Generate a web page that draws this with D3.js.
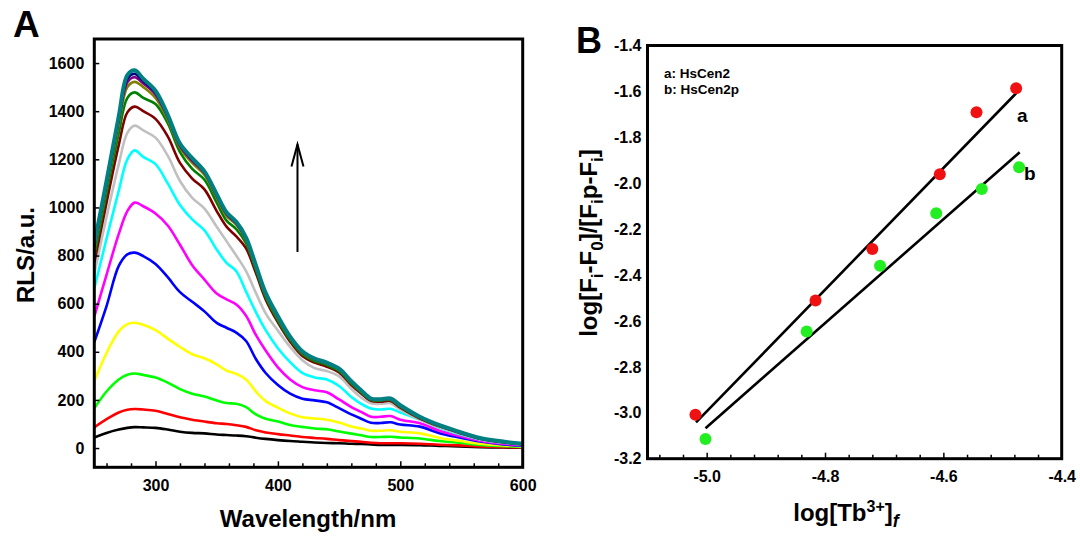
<!DOCTYPE html>
<html>
<head>
<meta charset="utf-8">
<script src="https://d3js.org/d3.v7.min.js"></script>
<style>
body { margin: 0; background: #fff; }
text { font-family: "Liberation Sans", Arial, sans-serif; font-weight: bold; fill: #000; }
</style>
</head>
<body>
<div id="chart"></div>
<script>
// panel A: RLS spectra
var wavelengths = [250,260,270,277,283,290,300,310,320,330,340,350,358,366,374,382,390,400,410,420,430,440,450,460,468,476,484,492,500,516,532,548,565,584,600];

var black   = [44,63,77,84,87,86,84,77,68,63,61,56,54,52,49,43,38,33,29,26,23,21,20,18,17,15,13,13,13,12,9,7,4,2,1];
var red     = [86,120,148,159,162,160,155,142,128,118,110,103,100,95,88,74,65,58,52,46,42,38,33,29,26,22,20,20,20,18,14,11,7,4,3];
var lime    = [165,235,285,305,310,304,293,272,245,226,214,198,187,184,170,140,122,110,96,88,81,78,69,60,53,46,46,47,44,40,29,22,13,8,5];
var yellow  = [278,395,485,515,521,512,490,455,420,390,373,348,322,308,285,235,195,168,144,128,123,118,106,90,81,72,72,74,68,61,42,30,18,11,7];
var blue    = [440,590,757,805,812,798,765,710,648,608,568,520,500,480,445,370,312,262,226,205,198,190,166,140,122,105,104,107,98,89,62,44,27,15,10];
var magenta = [546,720,890,985,1020,1005,975,925,845,760,700,642,618,597,550,470,405,335,285,253,240,232,202,170,150,130,130,133,118,103,72,50,30,18,12];
var cyan    = [663,870,1070,1200,1237,1210,1180,1100,1010,950,905,825,770,735,650,565,490,415,357,312,293,285,258,212,184,164,160,163,148,118,84,58,36,22,15];
var silver  = [723,960,1180,1310,1340,1320,1290,1215,1110,1040,995,920,860,800,735,645,560,488,420,365,332,320,298,246,210,186,184,186,160,118,86,61,37,23,15];
var maroon  = [770,1020,1260,1395,1419,1400,1368,1295,1185,1120,1075,985,920,880,830,728,618,522,442,383,355,338,314,262,227,196,193,196,168,123,90,64,39,24,16];
var green   = [800,1060,1310,1455,1478,1455,1430,1350,1230,1160,1115,1020,945,910,850,742,628,530,450,390,362,345,320,268,232,200,198,200,172,126,92,66,40,25,17];
var olive   = [825,1085,1345,1500,1522,1500,1455,1365,1248,1185,1135,1040,965,928,862,750,636,538,457,396,368,350,326,273,236,203,200,203,175,128,93,67,41,26,17];
var purple  = [835,1095,1360,1520,1541,1515,1470,1375,1255,1195,1143,1047,972,934,868,754,640,542,460,398,370,352,328,275,238,204,201,204,176,129,94,67,41,26,17];
var navy    = [842,1102,1370,1535,1555,1525,1478,1380,1260,1200,1147,1051,976,937,872,757,642,545,461,400,371,353,329,276,239,205,202,205,177,129,94,67,41,26,17];
var teal    = [850,1110,1380,1550,1570,1535,1485,1385,1265,1205,1150,1055,980,940,875,760,645,548,463,402,372,355,330,278,240,206,203,206,178,130,95,68,42,27,18];

var spectra = [black, red, lime, yellow, blue, magenta, cyan, silver, maroon, green, olive, purple, navy, teal];
var spectraColors = ["#000000","#ff0000","#00ff00","#ffff00","#0000ff","#ff00ff","#00ffff","#c0c0c0","#800000","#008000","#808000","#800080","#000080","#008080"];

var xTicksA = [300, 400, 500, 600];
var xMinorA = [260,280,320,340,360,380,420,440,460,480,520,540,560,580];
var yTicksA = [0, 200, 400, 600, 800, 1000, 1200, 1400, 1600];
var arrowA = [[416, 815], [416, 1262]];

// panel B: log plot
var logTbA = [-5.019, -4.816, -4.720, -4.606, -4.544, -4.477];
var logFA  = [-3.009, -2.511, -2.286, -1.961, -1.691, -1.586];
var logTbB = [-5.002, -4.831, -4.707, -4.612, -4.535, -4.472];
var logFB  = [-3.114, -2.646, -2.359, -2.131, -2.025, -1.930];
var fitA = [[-5.018, -3.042], [-4.477, -1.608]];
var fitB = [[-5.002, -3.067], [-4.471, -1.865]];

var xTicksB = [-5.0, -4.8, -4.6, -4.4];
var yTicksB = [-3.2, -3.0, -2.8, -2.6, -2.4, -2.2, -2.0, -1.8, -1.6, -1.4];
var legendB = ["a: HsCen2", "b: HsCen2p"];

var svg = d3.select("#chart")
    .append("svg")
    .attr("width", 1080)
    .attr("height", 537);

svg.append("rect").attr("width", 1080).attr("height", 537).attr("fill", "#fff");

// ---------- A ----------
var xA = d3.scaleLinear().domain([250, 600]).range([94.3, 522.7]);
var yA = d3.scaleLinear().domain([-80, 1700]).range([467.3, 39]);

svg.append("clipPath").attr("id", "clipA")
    .append("rect")
    .attr("x", xA(250)).attr("y", yA(1700))
    .attr("width", xA(600) - xA(250)).attr("height", yA(-80) - yA(1700));

var line = d3.line()
    .x(function(d, i) { return xA(wavelengths[i]); })
    .y(function(d) { return yA(d); })
    .curve(d3.curveCatmullRom.alpha(0.5));

svg.append("g")
    .attr("clip-path", "url(#clipA)")
    .selectAll("path")
    .data(spectra)
    .enter()
    .append("path")
    .attr("d", line)
    .attr("fill", "none")
    .attr("stroke", function(d, i) { return spectraColors[i]; })
    .attr("stroke-width", function(d, i) { return i == spectra.length - 1 ? 4 : 2.6; })
    .attr("stroke-linejoin", "round");

var axA = svg.append("g").attr("transform", "translate(0," + yA(-80) + ")")
    .call(d3.axisBottom(xA).tickValues(xTicksA).tickSize(-6).tickPadding(12.5).tickFormat(d3.format("d")));
svg.append("g").attr("transform", "translate(0," + yA(-80) + ")")
    .call(d3.axisBottom(xA).tickValues(xMinorA).tickSize(-4).tickFormat(""));
var ayA = svg.append("g").attr("transform", "translate(" + xA(250) + ",0)")
    .call(d3.axisLeft(yA).tickValues(yTicksA).tickSize(-5).tickPadding(10).tickFormat(d3.format("d")));

svg.selectAll(".domain").remove();
svg.selectAll(".tick line").attr("stroke", "#000").attr("stroke-width", 1.5);
svg.selectAll(".tick text").style("font-size", "16px").style("font-family", "'Liberation Sans', Arial, sans-serif").style("font-weight", "bold");

svg.append("rect")
    .attr("x", xA(250)).attr("y", yA(1700))
    .attr("width", xA(600) - xA(250)).attr("height", yA(-80) - yA(1700))
    .attr("fill", "none").attr("stroke", "#000").attr("stroke-width", 3);

// arrow
svg.append("line")
    .attr("x1", xA(arrowA[0][0])).attr("y1", yA(arrowA[0][1]))
    .attr("x2", xA(arrowA[1][0])).attr("y2", yA(arrowA[1][1]))
    .attr("stroke", "#000").attr("stroke-width", 2);
svg.append("path")
    .attr("d", "M" + (xA(arrowA[1][0]) - 6) + "," + (yA(arrowA[1][1]) + 22) +
               "L" + xA(arrowA[1][0]) + "," + yA(arrowA[1][1]) +
               "L" + (xA(arrowA[1][0]) + 6) + "," + (yA(arrowA[1][1]) + 22))
    .attr("fill", "none").attr("stroke", "#000").attr("stroke-width", 2);

svg.append("text").attr("x", 13).attr("y", 37).style("font-size", "37px").text("A");
svg.append("text").attr("x", 308).attr("y", 527).attr("text-anchor", "middle")
    .style("font-size", "24px").text("Wavelength/nm");
svg.append("text").attr("transform", "translate(34,255) rotate(-90)")
    .attr("text-anchor", "middle").style("font-size", "24px").text("RLS/a.u.");

// ---------- B ----------
var xB = d3.scaleLinear().domain([-5.1, -4.4]).range([647.5, 1061.7]);
var yB = d3.scaleLinear().domain([-3.2, -1.4]).range([458.7, 45.5]);

var fmt1 = function(d) { return d.toFixed(1); };

var minorB = d3.range(0, 18).map(function(i) { return +(-5.08 + i * 0.04).toFixed(2); })
    .filter(function(d) { return xTicksB.indexOf(d) < 0; });

var gB = svg.append("g");
gB.append("g").attr("transform", "translate(0," + yB(-3.2) + ")")
    .call(d3.axisBottom(xB).tickValues(xTicksB).tickSize(-6).tickPadding(11.5).tickFormat(fmt1));
gB.append("g").attr("transform", "translate(0," + yB(-3.2) + ")")
    .call(d3.axisBottom(xB).tickValues(minorB).tickSize(-4).tickFormat(""));
gB.append("g").attr("transform", "translate(" + xB(-5.1) + ",0)")
    .call(d3.axisLeft(yB).tickValues(yTicksB).tickSize(0).tickPadding(6).tickFormat(fmt1));

gB.selectAll(".domain").remove();
gB.selectAll(".tick line").attr("stroke", "#000").attr("stroke-width", 1.5);
gB.selectAll(".tick text").style("font-size", "16px").style("font-family", "'Liberation Sans', Arial, sans-serif").style("font-weight", "bold");

svg.append("rect")
    .attr("x", xB(-5.1)).attr("y", yB(-1.4))
    .attr("width", xB(-4.4) - xB(-5.1)).attr("height", yB(-3.2) - yB(-1.4))
    .attr("fill", "none").attr("stroke", "#000").attr("stroke-width", 3);

[fitA, fitB].forEach(function(f) {
  svg.append("line")
      .attr("x1", xB(f[0][0])).attr("y1", yB(f[0][1]))
      .attr("x2", xB(f[1][0])).attr("y2", yB(f[1][1]))
      .attr("stroke", "#000").attr("stroke-width", 2.6);
});

svg.selectAll("circle.a")
    .data(logTbA)
    .enter()
    .append("circle")
    .attr("class", "a")
    .attr("cx", function(d) { return xB(d); })
    .attr("cy", function(d, i) { return yB(logFA[i]); })
    .attr("r", 6)
    .attr("fill", "#f01212");

svg.selectAll("circle.b")
    .data(logTbB)
    .enter()
    .append("circle")
    .attr("class", "b")
    .attr("cx", function(d) { return xB(d); })
    .attr("cy", function(d, i) { return yB(logFB[i]); })
    .attr("r", 6)
    .attr("fill", "#22ee22");

svg.selectAll("text.leg")
    .data(legendB)
    .enter()
    .append("text")
    .attr("class", "leg")
    .attr("x", 664)
    .attr("y", function(d, i) { return 78 + i * 16; })
    .style("font-size", "13.5px")
    .text(function(d) { return d; });

svg.append("text").attr("x", 1017).attr("y", 122).style("font-size", "19px").text("a");
svg.append("text").attr("x", 1024).attr("y", 180).style("font-size", "19px").text("b");

svg.append("text").attr("x", 576).attr("y", 53).style("font-size", "36px").text("B");

var xt = svg.append("text").attr("x", 846).attr("y", 521).attr("text-anchor", "middle").style("font-size", "24px");
xt.append("tspan").text("log[Tb");
xt.append("tspan").attr("dy", -9).style("font-size", "16px").text("3+");
xt.append("tspan").attr("dy", 9).text("]");
xt.append("tspan").attr("dy", 6).style("font-size", "18px").style("font-style", "italic").text("f");

var yt = svg.append("text").attr("transform", "translate(597,243) rotate(-90)")
    .attr("text-anchor", "middle").style("font-size", "24px");
yt.append("tspan").text("log[F");
yt.append("tspan").attr("dy", 6).style("font-size", "17px").text("i");
yt.append("tspan").attr("dy", -6).text("-F");
yt.append("tspan").attr("dy", 6).style("font-size", "17px").text("0");
yt.append("tspan").attr("dy", -6).text("]/[F");
yt.append("tspan").attr("dy", 6).style("font-size", "17px").text("i");
yt.append("tspan").attr("dy", -6).text("p-F");
yt.append("tspan").attr("dy", 6).style("font-size", "17px").text("i");
yt.append("tspan").attr("dy", -6).text("]");
</script>
</body>
</html>
